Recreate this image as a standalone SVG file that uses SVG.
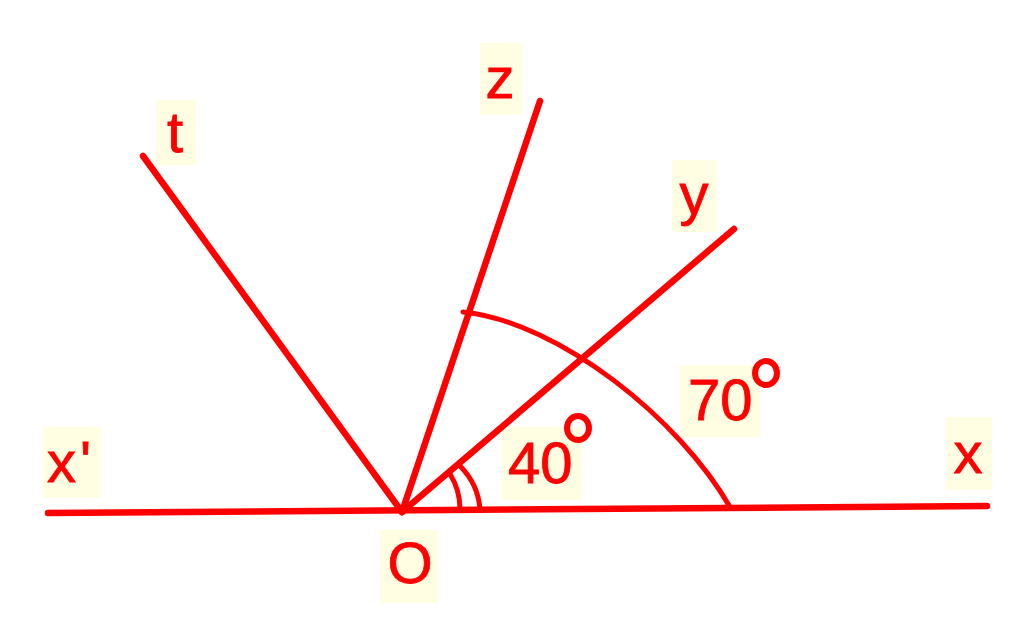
<svg xmlns="http://www.w3.org/2000/svg" width="1024" height="638" viewBox="0 0 1024 638">
<style>
.ln{stroke:#ff0000;stroke-width:6.5;stroke-linecap:round;fill:none}
.arc{stroke:#ff0000;stroke-width:5;stroke-linecap:round;fill:none}
.bg{fill:#fffde2}
.lb{font-family:"Liberation Sans",Arial,sans-serif;font-size:58px;fill:#ff0000;stroke:#ff0000;stroke-width:0.8}
.deg{fill:none;stroke:#ff0000;stroke-width:6}
</style>
<rect width="1024" height="638" fill="#ffffff"/>
<g id="labels-bg">
<rect class="bg" x="156" y="100" width="40" height="65"/>
<rect class="bg" x="480" y="43" width="42" height="72"/>
<rect class="bg" x="672" y="160" width="45" height="72"/>
<rect class="bg" x="946" y="417" width="46" height="73"/>
<rect class="bg" x="43" y="427" width="58" height="71"/>
<rect class="bg" x="380" y="530" width="58" height="73"/>
<rect class="bg" x="502" y="427" width="80" height="73"/>
<rect class="bg" x="680" y="365" width="80" height="72"/>
</g>
<g id="connectors">
<line class="ln" x1="48" y1="513" x2="987" y2="506"/>
<line class="ln" x1="402" y1="512" x2="143" y2="156"/>
<line class="ln" x1="402" y1="512" x2="540" y2="101"/>
<line class="ln" x1="402" y1="512" x2="734" y2="229"/>
<path class="arc" d="M463,312 C560,322 680,420 730,507"/>
<path class="arc" d="M450,474 Q460,490 460,509"/>
<path class="arc" d="M460,466 Q478,484 480,509"/>
</g>
<g id="t"><text class="lb" x="175" y="152" text-anchor="middle">t</text></g>
<g id="z"><text class="lb" x="500" y="98" text-anchor="middle">z</text></g>
<g id="y"><text class="lb" x="694" y="214" text-anchor="middle">y</text></g>
<g id="x"><text class="lb" x="968" y="473" text-anchor="middle">x</text></g>
<g id="xprime"><text class="lb" x="47" y="482" letter-spacing="4">x'</text></g>
<g id="O"><text class="lb" x="410" y="583" text-anchor="middle">O</text></g>
<g id="a40"><text class="lb" x="508" y="483">40</text><ellipse class="deg" cx="578" cy="428" rx="11" ry="12"/></g>
<g id="a70"><text class="lb" x="688" y="420">70</text><ellipse class="deg" cx="766" cy="373" rx="11" ry="12"/></g>
</svg>
